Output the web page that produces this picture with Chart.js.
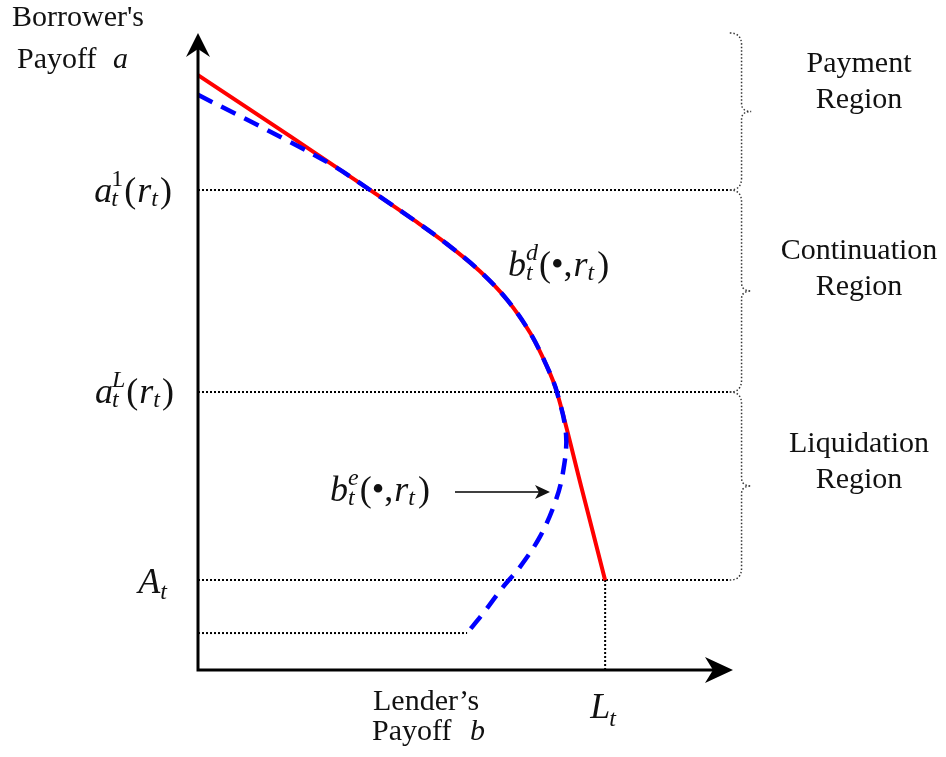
<!DOCTYPE html>
<html>
<head>
<meta charset="utf-8">
<script src="https://cdn.jsdelivr.net/npm/chart.js@4.4.1/dist/chart.umd.min.js"></script>
<style>
  html, body { margin: 0; padding: 0; background: #fff; }
  #wrap { width: 946px; height: 757px; }
</style>
</head>
<body>
<div id="wrap"><canvas id="myChart" width="946" height="757"></canvas></div>
<script>
// schematic scale: lender payoff b on x, borrower payoff a on y (0-100)
const debtB = [0, 17.2, 34.0, 40.6, 46.5, 52.7, 57.8, 62.1, 65.2, 67.1, 71.6, 76.1];
const debtA = [93.4, 83.8, 74.3, 70.5, 66.9, 62.6, 58.1, 52.9, 47.7, 43.6, 28.9, 14.1];

const equityB = [0, 17.2, 25.6, 34.0, 40.6, 46.5, 52.7, 57.8, 62.1, 65.2, 67.1, 68.8, 68.2, 66.7, 63.9, 60.2, 57.0, 53.3, 50.3];
const equityA = [90.3, 82.9, 79.0, 74.3, 70.5, 66.9, 62.6, 58.1, 52.9, 47.7, 43.6, 36.9, 30.9, 26.2, 20.9, 16.2, 13.0, 8.9, 5.8];

// reference levels
const levelA1 = 75.35;   // a_t^1(r_t)
const levelAL = 43.64;   // a_t^L(r_t)
const levelAt = 14.13;   // A_t
const levelLow = 5.8;    // end of b^e
const valueLt = 76.1;    // L_t
const regionTop = 100;
const guideEnd = 99.4;
const regionNames = [['Payment', 'Region'], ['Continuation', 'Region'], ['Liquidation', 'Region']];

const toPoints = (xs, ys) => xs.map((v, i) => ({ x: v, y: ys[i] }));
const FONT = '"Liberation Serif", "Times New Roman", serif';

const guide = (pts) => ({
  data: pts,
  borderColor: '#000',
  borderWidth: 2,
  borderDash: [2, 2],
  pointRadius: 0,
  tension: 0,
  clip: false,
});

function arrowHead(ctx, tx, ty, dir, len, half, notch) {
  ctx.beginPath();
  if (dir === 'up') {
    ctx.moveTo(tx, ty);
    ctx.lineTo(tx - half, ty + len);
    ctx.lineTo(tx, ty + len - notch);
    ctx.lineTo(tx + half, ty + len);
  } else {
    ctx.moveTo(tx, ty);
    ctx.lineTo(tx - len, ty - half);
    ctx.lineTo(tx - len + notch, ty);
    ctx.lineTo(tx - len, ty + half);
  }
  ctx.closePath();
  ctx.fill();
}

// runs: {t, i, gap} base text or {sub, sup, gap} scripts
function mathText(ctx, runs, x, y, size, opts) {
  const o = Object.assign({ right: false, subDy: 0.1, supDy: -0.45 }, opts);
  const small = Math.round(size * 0.66);
  const widths = runs.map((r) => {
    let w;
    if (r.t !== undefined) {
      ctx.font = `${r.i ? 'italic ' : ''}${size}px ${FONT}`;
      w = ctx.measureText(r.t).width;
    } else {
      ctx.font = `italic ${small}px ${FONT}`;
      w = Math.max(r.sub ? ctx.measureText(r.sub).width : 0, r.sup ? ctx.measureText(r.sup).width : 0);
    }
    return w + (r.gap || 0);
  });
  const total = widths.reduce((a, b) => a + b, 0);
  let cx = o.right ? x - total : x;
  runs.forEach((r, k) => {
    const sx = cx + (r.gap || 0);
    if (r.t !== undefined) {
      ctx.font = `${r.i ? 'italic ' : ''}${size}px ${FONT}`;
      ctx.fillText(r.t, sx, y);
    } else {
      if (r.sub) {
        ctx.font = `italic ${small}px ${FONT}`;
        ctx.fillText(r.sub, sx, y + size * o.subDy);
      }
      if (r.sup) {
        ctx.font = `${/\d/.test(r.sup) ? '' : 'italic '}${small}px ${FONT}`;
        ctx.fillText(r.sup, sx, y + size * o.supDy);
      }
    }
    cx += widths[k];
  });
}

function brace(ctx, x0, xm, xt, top, bot) {
  const mid = (top + bot) / 2;
  ctx.beginPath();
  ctx.moveTo(x0, top);
  ctx.quadraticCurveTo(xm, top, xm, top + 12);
  ctx.lineTo(xm, mid - 8);
  ctx.quadraticCurveTo(xm, mid, xt, mid);
  ctx.quadraticCurveTo(xm, mid, xm, mid + 8);
  ctx.lineTo(xm, bot - 12);
  ctx.quadraticCurveTo(xm, bot, x0, bot);
  ctx.stroke();
}

const diagram = {
  id: 'diagram',
  afterDatasetsDraw(chart) {
    const { ctx, scales: { x, y } } = chart;
    const px = (v) => x.getPixelForValue(v);
    const py = (v) => y.getPixelForValue(v);
    const ox = px(0), oy = py(0);
    ctx.save();
    ctx.fillStyle = '#000';
    ctx.strokeStyle = '#000';

    // axes with arrow heads
    ctx.lineWidth = 3;
    ctx.beginPath();
    ctx.moveTo(ox, oy + 1.5);
    ctx.lineTo(ox, py(100) + 16);
    ctx.moveTo(ox - 1.5, oy);
    ctx.lineTo(px(100) - 20, oy);
    ctx.stroke();
    arrowHead(ctx, ox, py(100), 'up', 24, 12, 8);
    arrowHead(ctx, px(100), oy, 'right', 28, 13, 8);

    // region braces
    ctx.lineWidth = 1.5;
    ctx.setLineDash([1.5, 2]);
    ctx.strokeStyle = '#333';
    const x0 = px(guideEnd), xm = px(101.6), xt = px(103.4);
    const bounds = [regionTop, levelA1, levelAL, levelAt];
    for (let i = 0; i < 3; i++) brace(ctx, x0, xm, xt, py(bounds[i]), py(bounds[i + 1]));
    ctx.setLineDash([]);
    ctx.strokeStyle = '#000';

    // region names
    ctx.fillStyle = '#111';
    ctx.font = `30px ${FONT}`;
    ctx.textAlign = 'center';
    const nameBase = [72, 259, 452];
    regionNames.forEach((pair, i) => {
      ctx.fillText(pair[0], 859, nameBase[i]);
      ctx.fillText(pair[1], 859, nameBase[i] + 36);
    });
    ctx.textAlign = 'left';

    // axis titles
    ctx.fillText("Borrower's", 12, 26);
    ctx.fillText('Payoff', 17, 68);
    ctx.font = `italic 30px ${FONT}`;
    ctx.fillText('a', 113, 68);
    ctx.font = `30px ${FONT}`;
    ctx.fillText('Lender\u2019s', 373, 710);
    ctx.fillText('Payoff', 372, 740);
    ctx.font = `italic 30px ${FONT}`;
    ctx.fillText('b', 470, 740);

    // level labels
    const levelLabel = (sup) => [{ t: 'a', i: true }, { sub: 't', sup, gap: -1 }, { t: '(', gap: 1 }, { t: 'r', i: true, gap: 1 }, { sub: 't' }, { t: ')', gap: 2 }];
    mathText(ctx, levelLabel('1'), 172, py(levelA1) + 12, 36, { right: true });
    mathText(ctx, levelLabel('L'), 174, py(levelAL) + 11, 36, { right: true });
    mathText(ctx, [{ t: 'A', i: true }, { sub: 't', gap: 0 }], 167, py(levelAt) + 13, 36, { right: true, subDy: 0.16 });
    mathText(ctx, [{ t: 'L', i: true }, { sub: 't', gap: -1 }], px(valueLt) - 15, 718, 36, { subDy: 0.22 });

    // curve labels
    const curveLabel = (sup) => [{ t: 'b', i: true }, { sub: 't', sup }, { t: '(', gap: 1 }, { t: '\u2022', gap: 0 }, { t: ',' }, { t: 'r', i: true, gap: 1 }, { sub: 't' }, { t: ')', gap: 3 }];
    mathText(ctx, curveLabel('d'), 508, 276, 36);
    mathText(ctx, curveLabel('e'), 330, 501, 36);

    // pointer to b^e
    ctx.lineWidth = 1.5;
    ctx.beginPath();
    ctx.moveTo(455, 492);
    ctx.lineTo(540, 492);
    ctx.stroke();
    arrowHead(ctx, 550, 492, 'right', 15, 7, 4);

    ctx.restore();
  },
};

new Chart(document.getElementById('myChart'), {
  type: 'scatter',
  data: {
    datasets: [
      {
        data: toPoints(equityB, equityA),
        borderColor: '#0000ff',
        borderWidth: 4.5,
        borderDash: [16, 10],
        pointRadius: 0,
        tension: 0.35,
        clip: false,
      },
      {
        data: toPoints(debtB, debtA),
        borderColor: '#ff0000',
        borderWidth: 4,
        pointRadius: 0,
        tension: 0.35,
        clip: false,
      },
      guide([{ x: 0, y: levelA1 }, { x: guideEnd, y: levelA1 }]),
      guide([{ x: 0, y: levelAL }, { x: guideEnd, y: levelAL }]),
      guide([{ x: 0, y: levelAt }, { x: guideEnd, y: levelAt }]),
      guide([{ x: 0, y: levelLow }, { x: equityB[equityB.length - 1], y: levelLow }]),
      guide([{ x: valueLt, y: levelAt }, { x: valueLt, y: 0 }]),
    ].map((d) => ({ showLine: true, ...d })),
  },
  options: {
    responsive: false,
    animation: false,
    devicePixelRatio: 1,
    layout: { padding: { left: 198, right: 159.5, top: 33, bottom: 87 } },
    scales: {
      x: { type: 'linear', min: 0, max: 110, display: false },
      y: { type: 'linear', min: 0, max: 100, display: false },
    },
    plugins: { legend: { display: false }, tooltip: { enabled: false } },
  },
  plugins: [diagram],
});
</script>
</body>
</html>
